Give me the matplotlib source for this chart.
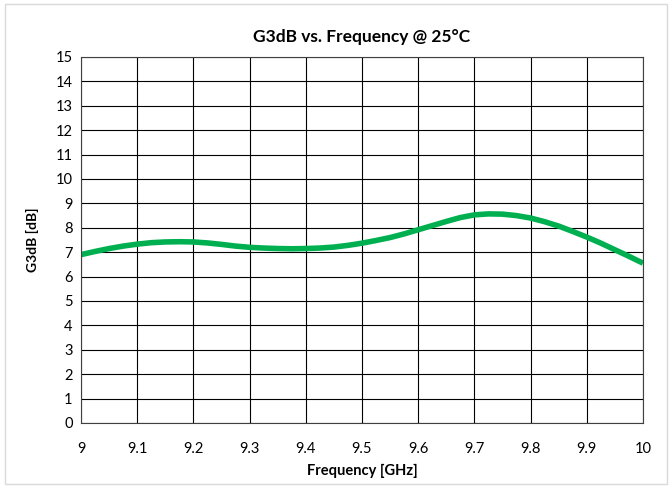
import matplotlib
matplotlib.use("Agg")
import matplotlib.pyplot as plt
import numpy as np
from matplotlib.patches import Rectangle

plt.rcParams['font.family'] = ['Lato', 'DejaVu Sans']

freq = [9.000, 9.025, 9.050, 9.075, 9.100, 9.125, 9.150, 9.175, 9.200, 9.225,
        9.250, 9.275, 9.300, 9.325, 9.350, 9.375, 9.400, 9.425, 9.450, 9.475,
        9.500, 9.525, 9.550, 9.575, 9.600, 9.625, 9.650, 9.675, 9.700, 9.725,
        9.750, 9.775, 9.800, 9.825, 9.850, 9.875, 9.900, 9.925, 9.950, 9.975,
        10.000]
g3db = [6.90, 7.03, 7.15, 7.25, 7.33, 7.39, 7.42, 7.43, 7.42, 7.38,
        7.32, 7.25, 7.20, 7.17, 7.15, 7.14, 7.15, 7.17, 7.21, 7.28,
        7.37, 7.48, 7.60, 7.75, 7.92, 8.09, 8.26, 8.42, 8.53, 8.57,
        8.56, 8.50, 8.40, 8.25, 8.07, 7.85, 7.62, 7.37, 7.10, 6.83,
        6.55]
xticks = [9, 9.1, 9.2, 9.3, 9.4, 9.5, 9.6, 9.7, 9.8, 9.9, 10]
xticklabels = ["9", "9.1", "9.2", "9.3", "9.4", "9.5", "9.6", "9.7", "9.8", "9.9", "10"]
yticks = list(range(0, 16))

fig = plt.figure(figsize=(6.72, 4.87), dpi=100)
fig.patches.append(Rectangle((5 / 672, 3 / 487), 662 / 672, 480 / 487, transform=fig.transFigure,
                             fill=False, edgecolor="#d9d9d9", linewidth=1))
ax = fig.add_axes([81 / 672, 1 - 423 / 487, (643 - 81) / 672, (423 - 57) / 487])

ax.plot(freq, g3db, color="#00b050", linewidth=4, solid_capstyle="butt",
        solid_joinstyle="round")

ax.set_xlim(9, 10)
ax.set_ylim(0, 15)
ax.set_xticks(xticks)
ax.set_xticklabels(xticklabels)
ax.set_yticks(yticks)
ax.grid(True, color="black", linewidth=0.8)
ax.set_axisbelow(True)
for s in ax.spines.values():
    s.set_color("#404040")
    s.set_linewidth(0.8)
ax.tick_params(length=0, labelsize=10.5)
ax.tick_params(axis="x", pad=14)
ax.tick_params(axis="y", pad=6)

ax.set_title("G3dB vs. Frequency @ 25°C", fontsize=12.5, fontweight="bold", pad=11)
ax.set_xlabel("Frequency [GHz]", fontsize=10.5, fontweight="bold", labelpad=5)
ax.set_ylabel("G3dB [dB]", fontsize=10, fontweight="bold", labelpad=12)

fig.savefig("out.png", dpi=100)
